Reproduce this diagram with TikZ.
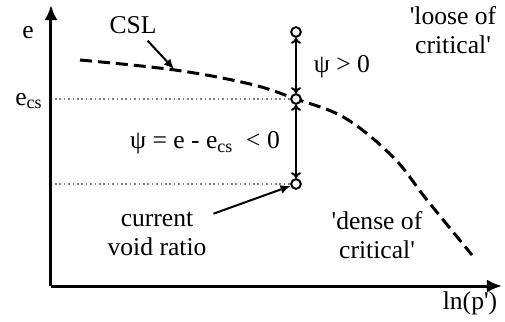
\documentclass[tikz,border=0pt]{standalone}
\usepackage{fontspec}
\setmainfont{Liberation Serif}
\usetikzlibrary{arrows.meta}
\newcommand\sq{\textquotesingle}

\begin{document}
\begin{tikzpicture}[x=0.5pt,y=-0.5pt, every node/.style={font=\fontsize{12.8}{14.5}\selectfont,align=center}, ax/.style={-{Latex[length=7.5pt,width=6.5pt]},line width=1.5pt}, csl/.style={line width=1.5pt,dash pattern=on 6pt off 3pt}, grid/.style={gray,line width=1pt,dash pattern=on 0.8pt off 1.4pt}, pt/.style={circle,draw,fill=white,line width=1pt,inner sep=0pt,minimum size=4.8pt}, dbl/.style={{To[length=3pt,width=5pt]}-{To[length=3pt,width=5pt]},line width=1pt}, ptr/.style={-{Latex[length=5pt,width=4.5pt]},line width=1pt}]
\useasboundingbox (0,0) rectangle (505,322);
% axes
\coordinate (o) at (51,286);
\coordinate (ytip) at (51,5);
\coordinate (xtip) at (502,286);
\draw[ax] (o) -- (ytip);
\draw[ax] (o) -- (xtip);
\node (elab) at (28,33) {e};
\node (ecslab) at (29,101) {e\textsubscript{cs}};
\node (plab) at (470,303) {ln(p\sq)};
% critical state line
\draw[csl] plot[smooth,tension=0.6] coordinates {(80,60) (175,70) (250,84) (296,99) (345,118) (393,157) (427,200) (472,255)};
% states
\node[pt] (ptop) at (296,32) {};
\node[pt] (pcs) at (296,99) {};
\node[pt] (pnow) at (296,184) {};
\coordinate (ycs) at (55,99);
\coordinate (ynow) at (55,184);
\draw[grid] (ycs) -- (pcs);
\draw[grid] (ynow) -- (pnow);
\draw[dbl] (pcs) -- (ptop);
\draw[dbl] (pnow) -- (pcs);
\node (pos) at (342,67) {ψ > 0};
\node (neg) at (205,143) {ψ = e - e\textsubscript{cs} \ < 0};
% labels
\node (csl) at (133,25) {CSL};
\coordinate (cslpt) at (174,69);
\draw[ptr] (csl) -- (cslpt);
\node (cvr) at (157,234) {current\\void ratio};
\draw[ptr] (cvr) -- (pnow);
\node (loose) at (453,30) {\sq loose of\\critical\sq};
\node (dense) at (377,235) {\sq dense of\\critical\sq};
\end{tikzpicture}
\end{document}
